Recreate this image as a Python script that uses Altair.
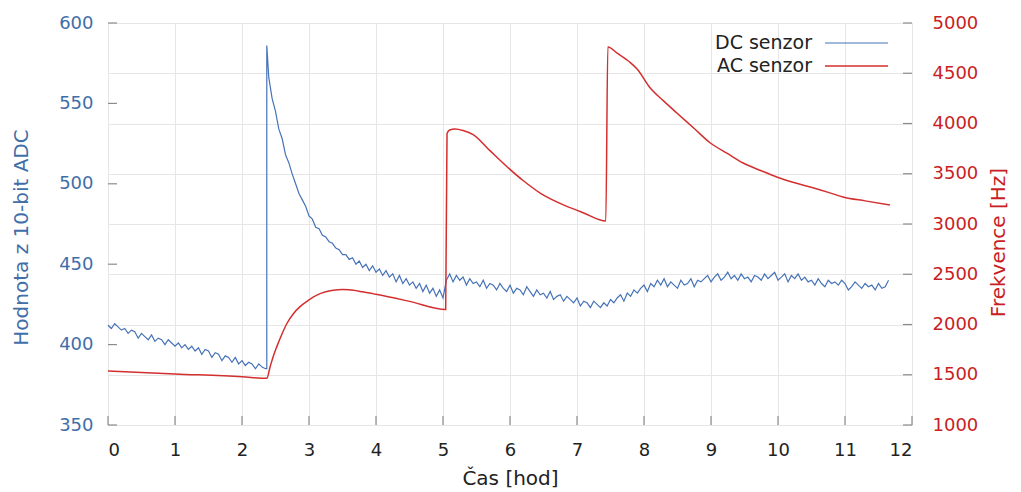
import altair as alt
import pandas as pd

# ---------------- data ----------------
x_ticks = list(range(0, 13))
left_ticks = [350, 400, 450, 500, 550, 600]
right_ticks = [1000, 1500, 2000, 2500, 3000, 3500, 4000, 4500, 5000]
series_names = ["DC senzor", "AC senzor"]

dc_step = 0.05
# DC sensor, first segment (t = 0.00 .. 2.35)
dc_seg1_start = 0.0
dc_seg1 = [
    412, 410, 413, 411, 409, 410, 407, 409, 408, 404,
    407, 405, 403, 406, 402, 404, 403, 400, 403, 401,
    399, 401, 398, 400, 397, 399, 396, 398, 394, 397,
    396, 392, 395, 394, 390, 393, 392, 389, 392, 388,
    390, 387, 389, 388, 385, 388, 386, 385,
]
# spike
dc_spike_t = [2.37, 2.37]
dc_spike_v = [385, 586]
# DC sensor, second segment (t = 2.40 .. 11.65)
dc_seg2_start = 2.40
dc_seg2 = [
    566, 553, 545, 534, 528, 518, 513, 506, 500, 494,
    490, 486, 480, 478, 473, 472, 468, 467, 464, 463,
    460, 459, 456, 456, 453, 454, 450, 452, 448, 450,
    446, 449, 445, 447, 443, 446, 442, 444, 439, 443,
    438, 441, 437, 439, 435, 438, 433, 437, 432, 435,
    430, 434, 429, 440, 444, 439, 443, 440, 442, 437,
    441, 438, 439, 436, 440, 435, 438, 437, 434, 438,
    435, 433, 437, 432, 435, 434, 431, 436, 433, 430,
    434, 431, 432, 429, 433, 428, 430, 431, 427, 430,
    428, 426, 429, 424, 427, 426, 423, 427, 425, 423,
    426, 424, 428, 426, 429, 431, 427, 432, 430, 434,
    432, 435, 437, 433, 438, 436, 440, 437, 441, 436,
    439, 437, 435, 440, 437, 438, 441, 436, 440, 439,
    441, 443, 439, 442, 444, 440, 442, 445, 441, 443,
    440, 444, 441, 442, 439, 443, 442, 440, 444, 441,
    443, 445, 440, 442, 444, 439, 443, 441, 444, 440,
    442, 439, 440, 437, 441, 438, 436, 440, 438, 439,
    437, 440, 438, 434, 436, 439, 437, 435, 438, 436,
    437, 434, 438, 435, 436, 440,
]

ac_t = [0.00, 1.00, 2.00, 2.37, 2.42, 2.47, 2.52, 2.60, 2.67, 2.77,
        2.87, 3.00, 3.11, 3.25, 3.36, 3.50, 3.60, 3.80, 4.00, 4.50,
        5.04, 5.06, 5.10, 5.18, 5.30, 5.45, 5.70, 5.96, 6.20, 6.45,
        6.80, 7.10, 7.43, 7.46, 7.60, 7.79, 7.90, 8.09, 8.30, 8.49,
        8.75, 8.99, 9.25, 9.48, 9.75, 9.98, 10.25, 10.48, 10.75, 10.97,
        11.30, 11.67]
ac_v = [1537, 1508, 1480, 1465, 1580, 1690, 1780, 1910, 2010, 2110,
        2180, 2245, 2290, 2325, 2340, 2348, 2346, 2325, 2300, 2230,
        2150, 3900, 3935, 3945, 3930, 3890, 3730, 3567, 3430, 3308,
        3190, 3110, 3030, 4760, 4700, 4610, 4540, 4355, 4220, 4105,
        3950, 3806, 3700, 3607, 3530, 3468, 3410, 3368, 3315, 3269,
        3230, 3190]

# ---------------- tables ----------------
dc_t = ([round(dc_seg1_start + i * dc_step, 2) for i in range(len(dc_seg1))]
        + dc_spike_t
        + [round(dc_seg2_start + i * dc_step, 2) for i in range(len(dc_seg2))])
dc_v = dc_seg1 + dc_spike_v + dc_seg2
dc_df = pd.DataFrame({"t": dc_t, "v": dc_v, "i": list(range(len(dc_v)))})
ac_df = pd.DataFrame({"t": ac_t, "v": ac_v, "i": list(range(len(ac_v)))})

xt_df = pd.DataFrame({"t": x_ticks})
lt_df = pd.DataFrame({"v": left_ticks})
rt_df = pd.DataFrame({"v": right_ticks})

# ---------------- style ----------------
W, H = 804, 402
BLUE = "#4673b8"
RED = "#d42f2f"
BLUE_TXT = "#3f6ea9"
RED_TXT = "#c81e24"
FONT = "DejaVu Sans"
FS = 18
TFS = 20

x_scale = alt.Scale(domain=[0, 12], nice=False, zero=False)
left_scale = alt.Scale(domain=[350, 600], nice=False, zero=False)
right_scale = alt.Scale(domain=[1000, 5000], nice=False, zero=False)

x_axis = alt.Axis(values=x_ticks, title="Čas [hod]", grid=True, gridColor="#e6e6e6",
                  ticks=False, domain=False, labelPadding=16, titlePadding=9,
                  labelFontSize=FS, titleFontSize=TFS, labelColor="#222222",
                  titleColor="#222222", titleFontWeight="normal", labelFont=FONT, titleFont=FONT)


def xenc(field="t"):
    return alt.X(f"{field}:Q", scale=x_scale, axis=x_axis)


dc_line = alt.Chart(dc_df).mark_line(color=BLUE, strokeWidth=1.2).encode(
    x=xenc(),
    y=alt.Y("v:Q", scale=left_scale,
            axis=alt.Axis(orient="left", values=left_ticks, title="Hodnota z 10-bit ADC",
                          grid=False, ticks=False, domain=False, labelPadding=15,
                          titlePadding=27, titleY=214, labelFontSize=FS, titleFontSize=TFS,
                          labelColor=BLUE_TXT, titleColor=BLUE_TXT, titleFontWeight="normal",
                          labelFont=FONT, titleFont=FONT)),
    order="i:Q",
)

ac_line = alt.Chart(ac_df).mark_line(color=RED, strokeWidth=1.5, interpolate="monotone").encode(
    x=xenc(),
    y=alt.Y("v:Q", scale=right_scale,
            axis=alt.Axis(orient="right", values=right_ticks, format="d", title="Frekvence [Hz]",
                          grid=True, gridColor="#e6e6e6", ticks=False, domain=False,
                          labelPadding=20, titlePadding=31, titleAngle=270, titleY=219,
                          labelFontSize=FS, titleFontSize=TFS, labelColor=RED_TXT,
                          titleColor=RED_TXT, titleFontWeight="normal",
                          labelFont=FONT, titleFont=FONT)),
    order="i:Q",
)

TICK_COL = "#8c8c8c"
left_tk = alt.Chart(lt_df).mark_rule(color=TICK_COL, strokeWidth=1.2).encode(
    y=alt.Y("v:Q", scale=left_scale, axis=None),
    x=alt.value(0), x2=alt.value(9),
)
right_tk = alt.Chart(rt_df).mark_rule(color=TICK_COL, strokeWidth=1.2).encode(
    y=alt.Y("v:Q", scale=right_scale, axis=None),
    x=alt.value(W - 9), x2=alt.value(W),
)
bottom_tk = alt.Chart(xt_df).mark_rule(color=TICK_COL, strokeWidth=1.2).encode(
    x=xenc(), y=alt.value(H), y2=alt.value(H - 9),
)

# legend (top right inside plot)
leg_txt_dc = alt.Chart(xt_df.head(1)).mark_text(
    align="right", baseline="middle", fontSize=19, font=FONT, color="#222222"
).encode(x=alt.value(704), y=alt.value(20), text=alt.value(series_names[0]))
leg_txt_ac = alt.Chart(xt_df.head(1)).mark_text(
    align="right", baseline="middle", fontSize=19, font=FONT, color="#222222"
).encode(x=alt.value(704), y=alt.value(43), text=alt.value(series_names[1]))
leg_ln_dc = alt.Chart(xt_df.head(1)).mark_rule(color=BLUE, strokeWidth=1.2).encode(
    x=alt.value(717), x2=alt.value(780), y=alt.value(20))
leg_ln_ac = alt.Chart(xt_df.head(1)).mark_rule(color=RED, strokeWidth=1.5).encode(
    x=alt.value(717), x2=alt.value(780), y=alt.value(43))

chart = alt.layer(
    dc_line, ac_line, left_tk, right_tk, bottom_tk,
    leg_ln_dc, leg_ln_ac, leg_txt_dc, leg_txt_ac,
).resolve_scale(y="independent").properties(
    width=W, height=H,
    autosize=alt.AutoSizeParams(type="none"),
    padding={"left": 100, "top": 15, "right": 100, "bottom": 67},
).configure_view(
    stroke="#8c8c8c", strokeWidth=1.5,
).configure(background="white")

chart.save("out.html", embed_options={"renderer": "svg", "actions": False})
